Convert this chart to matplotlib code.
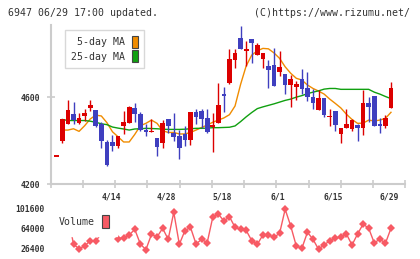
import numpy as np
import matplotlib
matplotlib.use('Agg')
import matplotlib.pyplot as plt
from matplotlib.patches import Patch
from matplotlib.transforms import blended_transform_factory

# Candle data (one per trading day, 61 days)
opens = [4329, 4398, 4478, 4524, 4483, 4515, 4551, 4541, 4478, 4395,
         4395, 4377, 4469, 4483, 4551, 4524, 4450, 4441, 4412, 4390,
         4500, 4435, 4421, 4431, 4404, 4532, 4537, 4503, 4465, 4483,
         4615, 4666, 4771, 4874, 4815, 4869, 4797, 4777, 4743, 4749,
         4717, 4708, 4658, 4647, 4684, 4643, 4601, 4543, 4598, 4510,
         4538, 4432, 4458, 4454, 4472, 4460, 4574, 4607, 4477, 4469,
         4552]
highs = [4329, 4499, 4588, 4578, 4526, 4547, 4588, 4541, 4487, 4403,
         4426, 4421, 4537, 4560, 4574, 4531, 4478, 4500, 4412, 4495,
         4500, 4528, 4449, 4468, 4532, 4545, 4547, 4547, 4528, 4666,
         4648, 4823, 4823, 4931, 4860, 4869, 4850, 4804, 4771, 4826,
         4814, 4708, 4701, 4675, 4730, 4717, 4638, 4632, 4598, 4547,
         4538, 4458, 4547, 4500, 4477, 4635, 4603, 4607, 4504, 4518,
         4670]
lows = [4329, 4390, 4478, 4475, 4478, 4492, 4538, 4463, 4367, 4284,
        4352, 4367, 4431, 4483, 4486, 4444, 4421, 4441, 4330, 4367,
        4434, 4400, 4317, 4377, 4380, 4475, 4457, 4437, 4349, 4483,
        4532, 4663, 4737, 4821, 4746, 4757, 4797, 4737, 4644, 4654,
        4697, 4615, 4555, 4588, 4615, 4583, 4546, 4543, 4510, 4469,
        4446, 4389, 4458, 4446, 4400, 4427, 4487, 4469, 4435, 4458,
        4552]
closes = [4329, 4498, 4541, 4497, 4504, 4529, 4566, 4469, 4398, 4288,
          4377, 4421, 4486, 4555, 4524, 4449, 4441, 4446, 4371, 4481,
          4468, 4417, 4367, 4404, 4532, 4510, 4501, 4441, 4468, 4565,
          4607, 4777, 4804, 4821, 4821, 4850, 4841, 4804, 4727, 4654,
          4740, 4658, 4684, 4663, 4638, 4601, 4575, 4598, 4520, 4515,
          4474, 4458, 4477, 4495, 4458, 4575, 4557, 4469, 4469, 4504,
          4644]

# Moving averages (first day has no value drawn)
ma5 = [np.nan, 4449, 4449, 4455, 4443, 4469, 4500, 4518, 4514, 4483,
       4441, 4418, 4394, 4394, 4429, 4469, 4480, 4495, 4480, 4446,
       4438, 4438, 4431, 4431, 4438, 4449, 4461, 4472, 4485, 4495,
       4505, 4520, 4560, 4660, 4745, 4795, 4815, 4826, 4824, 4805,
       4780, 4741, 4711, 4688, 4680, 4657, 4641, 4629, 4615, 4592,
       4572, 4551, 4522, 4498, 4480, 4481, 4495, 4491, 4495, 4503,
       4531]
ma25 = [np.nan, 4498, 4493, 4493, 4493, 4493, 4490, 4485, 4478, 4474,
        4463, 4458, 4454, 4449, 4454, 4455, 4457, 4456, 4455, 4453,
        4452, 4452, 4452, 4453, 4455, 4457, 4457, 4458, 4460, 4460,
        4461, 4462, 4468, 4488, 4510, 4530, 4548, 4556, 4563, 4570,
        4578, 4586, 4592, 4601, 4608, 4617, 4624, 4630, 4638, 4641,
        4641, 4637, 4637, 4637, 4637, 4637, 4637, 4624, 4615, 4604,
        4594]

volume = [72000, 68000, 90000, 35200, 27000, 32000, 42000, 40900, 56000, 60000,
          62000, 45800, 47700, 52700, 63400, 35800, 25100, 54000, 49000, 65300,
          44600, 95400, 35200, 60800, 67200, 35800, 44600, 38200, 86000, 92200,
          79000, 87100, 67200, 63400, 61500, 42000, 35200, 52700, 52700, 48400,
          55900, 101000, 69600, 32000, 27700, 57800, 44600, 25800, 34500, 41400,
          46500, 49500, 54600, 33900, 54600, 73400, 65300, 37700, 45200, 37100,
          65300]

date_pos = [10, 20, 30, 40, 50, 60]
date_labels = ['4/14', '4/28', '5/18', '6/1', '6/15', '6/29']
price_ticks = [4200, 4600]
vol_ticks = [26400, 64000, 101600]

RED = '#dc0000'
BLUE = '#3f3fbf'
ORANGE = '#f08c00'
GREEN = '#10a010'
VOLC = '#f75a64'
AXC = '#cccccc'
TXT = '#333333'
MONO = 'DejaVu Sans Mono'

xlim = (-1.13, 62.57)

fig = plt.figure(figsize=(4.2, 2.59), dpi=100)
ax = fig.add_axes([50.5 / 420, 75 / 259, 354.8 / 420, 159 / 259])
axv = fig.add_axes([50.5 / 420, 4 / 259, 354.8 / 420, 50 / 259])

# candles
x = np.arange(len(opens))
for i in x:
    o, h, l, c = opens[i], highs[i], lows[i], closes[i]
    col = RED if c >= o else BLUE
    ax.vlines(i, l, h, color=col, lw=1.0, zorder=3)
    body = abs(c - o)
    if body < 4:
        ax.hlines((o + c) / 2, i - 0.42, i + 0.42, color=col, lw=1.4, zorder=3)
    else:
        ax.bar(i, body, bottom=min(o, c), width=0.84, color=col, lw=0, zorder=3)

ax.plot(x, ma5, color=ORANGE, lw=1.0, zorder=2)
ax.plot(x, ma25, color=GREEN, lw=1.0, zorder=2)

ax.set_xlim(*xlim)
ax.set_ylim(4200, 4934)
for s in ['top', 'right']:
    ax.spines[s].set_visible(False)
for s in ['left', 'bottom']:
    ax.spines[s].set_color(AXC)
    ax.spines[s].set_linewidth(1.5)
ax.set_xticks(np.linspace(xlim[0], xlim[1], 12))
ax.set_xticklabels([])
ax.set_yticks(price_ticks)
ax.set_yticklabels([str(t) for t in price_ticks], family=MONO, fontsize=5.9,
                   fontweight='bold', color=TXT)
ax.tick_params(axis='both', direction='inout', length=5.5, width=1.2, color=AXC)
ax.tick_params(axis='y', pad=5.0)
ax.patch.set_alpha(0)

leg = ax.legend([Patch(facecolor=ORANGE, edgecolor='#444444', lw=0.8),
                 Patch(facecolor=GREEN, edgecolor='#444444', lw=0.8)],
                ['5-day MA', '25-day MA'], loc='upper left',
                bbox_to_anchor=(65 / 420, 1 - 30 / 259), bbox_transform=fig.transFigure,
                prop={'family': MONO, 'size': 7.1}, markerfirst=False,
                handlelength=0.6, handleheight=1.45, handletextpad=0.75,
                labelspacing=0.28, borderpad=0.6, borderaxespad=0,
                fancybox=False, framealpha=1, edgecolor='#d8d8d8')
leg.get_frame().set_linewidth(1.0)
for t in leg.get_texts():
    t.set_color(TXT)

# volume panel
axv.plot(x, volume, color=VOLC, lw=1.0, marker='D', markersize=3.6,
         markeredgewidth=0, zorder=2)
axv.set_xlim(*xlim)
axv.set_ylim(15120, 109120)
for s in axv.spines.values():
    s.set_visible(False)
axv.set_xticks([])
axv.set_yticks(vol_ticks)
axv.set_yticklabels([str(t) for t in vol_ticks], family=MONO, fontsize=5.8,
                    fontweight='bold', color=TXT)
axv.tick_params(axis='y', length=0, pad=4.4)
axv.patch.set_alpha(0)

tr = blended_transform_factory(axv.transData, axv.transAxes)
for p, lab in zip(date_pos, date_labels):
    axv.text(p - 0.3, 1.16, lab, transform=tr, ha='center', va='center',
             family=MONO, fontsize=5.8, fontweight='bold', color=TXT)

# white legend box hides the first points, as in the original
vleg = axv.legend([Patch(facecolor=VOLC, edgecolor='#444444', lw=0.8)], ['Volume'],
                  loc='center left', bbox_to_anchor=(51 / 420, 1 - 221.5 / 259),
                  bbox_transform=fig.transFigure, prop={'family': MONO, 'size': 7.1},
                  markerfirst=False, handlelength=0.7, handleheight=1.6,
                  handletextpad=0.7, borderpad=0.8, borderaxespad=0,
                  fancybox=False, framealpha=1, edgecolor='white')
vleg.set_zorder(5)
for t in vleg.get_texts():
    t.set_color(TXT)

fig.text(8 / 420, 1 - 13.3 / 259, '6947 06/29 17:00 updated.', family=MONO,
         fontsize=7.1, color=TXT, ha='left', va='center')
fig.text(409.5 / 420, 1 - 13.3 / 259, '(C)https://www.rizumu.net/', family=MONO,
         fontsize=7.1, color=TXT, ha='right', va='center')

fig.savefig('out.png', dpi=100)
